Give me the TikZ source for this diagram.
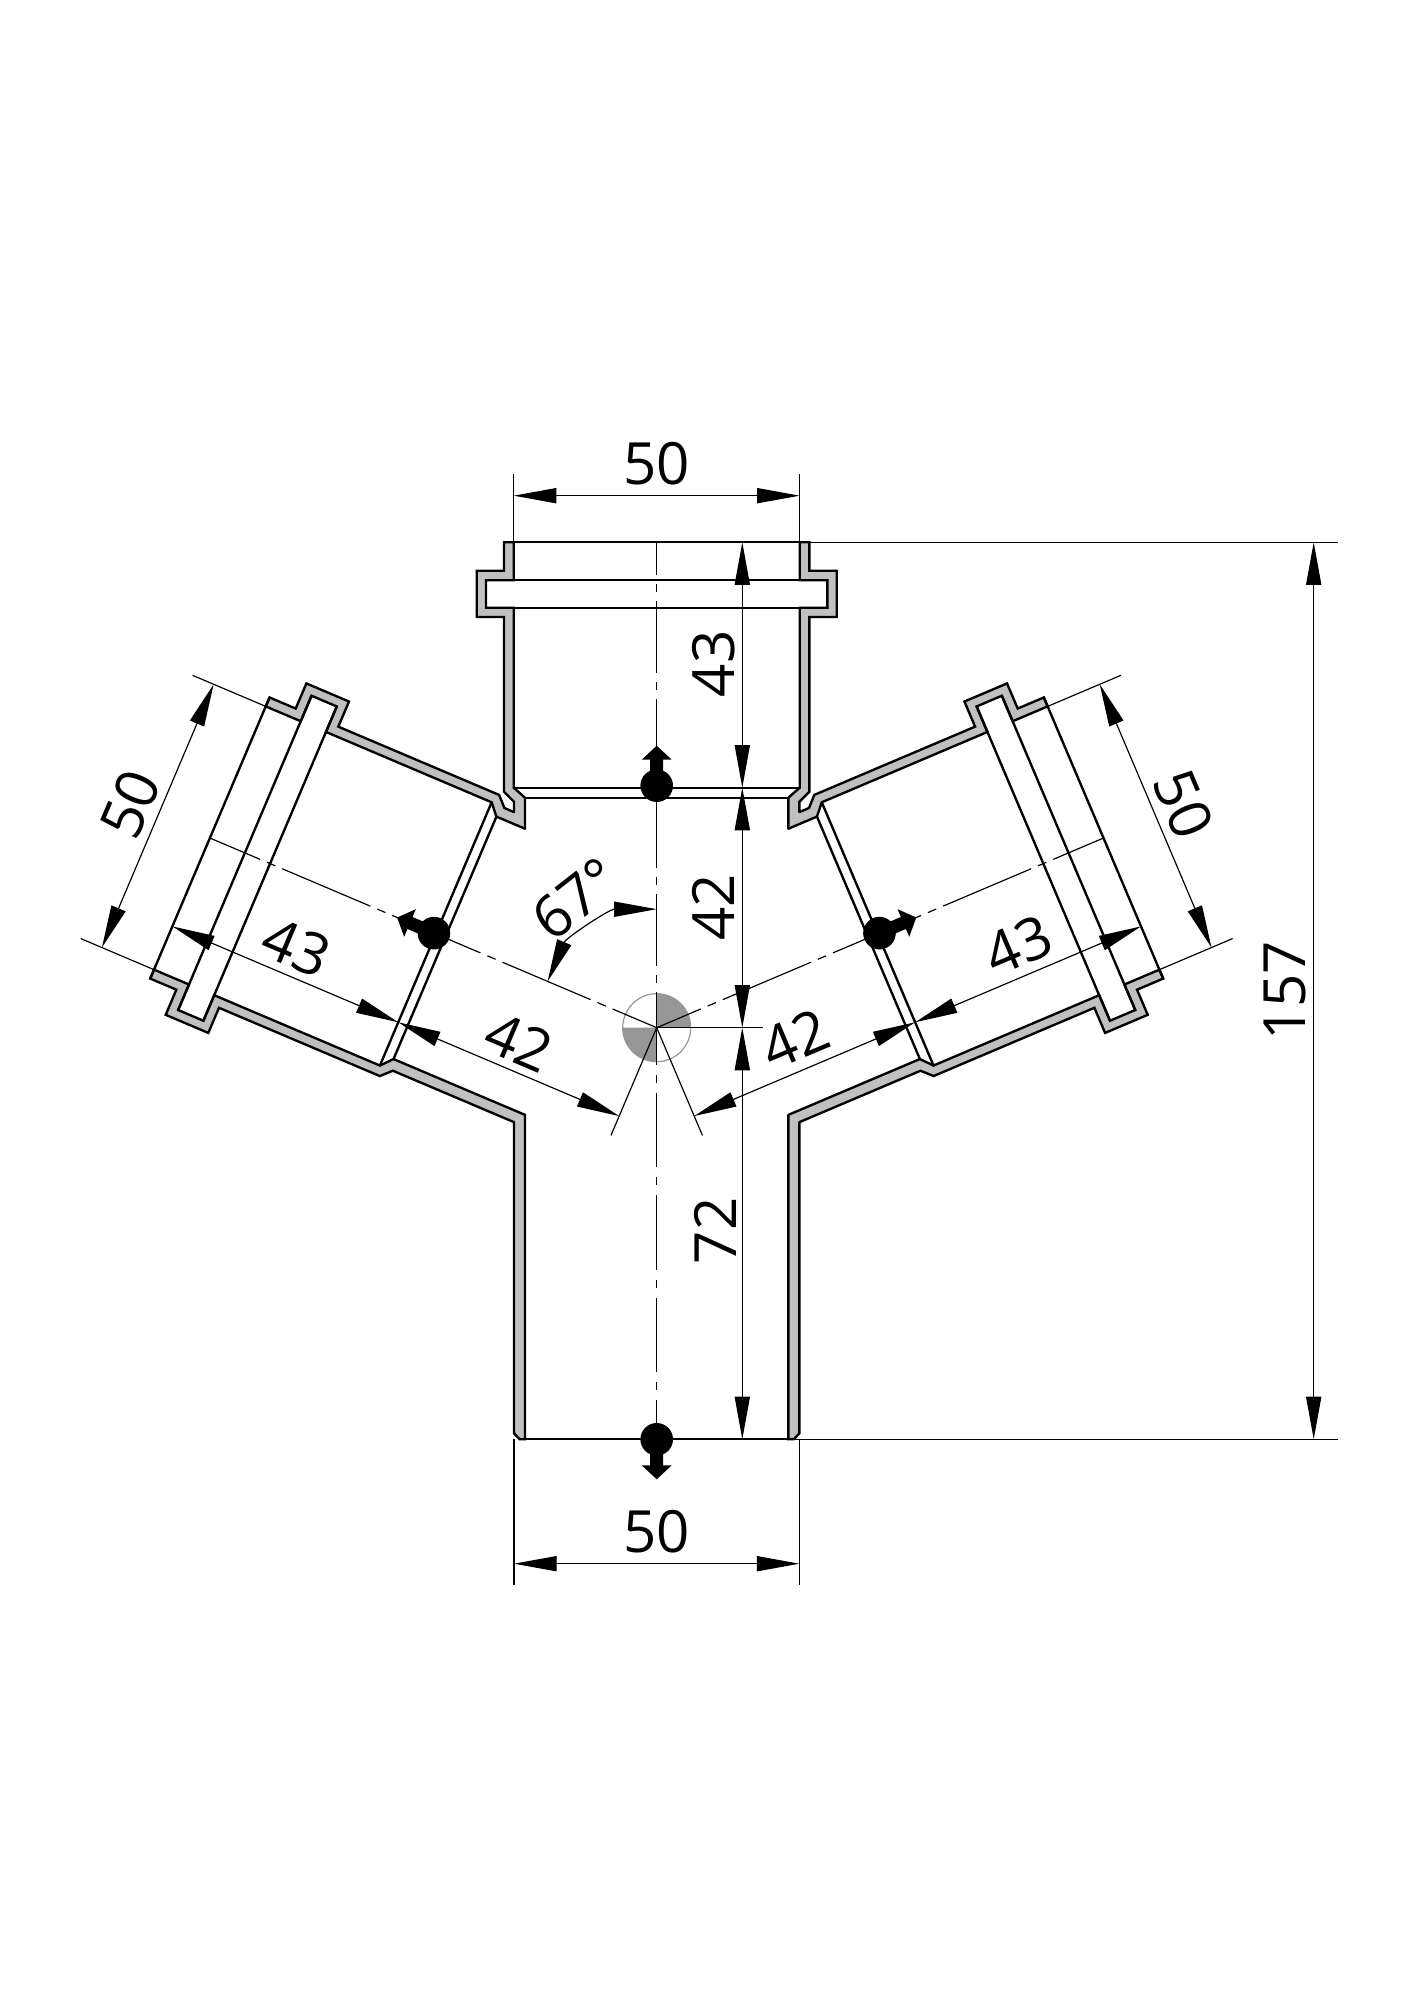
\documentclass[tikz,border=0pt]{standalone}
\usepackage{fontspec}
\setmainfont{Open Sans}
\usetikzlibrary{arrows.meta}
\definecolor{wall}{RGB}{192, 192, 192}
\definecolor{mid}{RGB}{150, 150, 150}
\tikzset{
  contour/.style={line width=1pt, line cap=round},
  thinline/.style={line width=0.5pt},
  dimline/.style={thinline, {Triangle[length=18pt, width=6.4pt]}-{Triangle[length=18pt, width=6.4pt]}},
  axisstem/.style={thinline, dash pattern=on 30.33pt off 3.79pt on 3.37pt off 3.79pt, dash phase=15.16pt},
  axislow/.style={thinline, dash pattern=on 31.47pt off 4.2pt on 3.37pt off 4.2pt, dash phase=15.7pt},
  axisbranch/.style={thinline, dash pattern=on 40.44pt off 3.16pt on 3.79pt off 3.16pt, dash phase=20.22pt},
  dimtext/.style={font=\fontsize{24.6}{26}\selectfont, inner sep=0pt}
}
\newcommand{\socketwall}[2]{
  \filldraw[contour, fill=wall] (-142.7, #1) -- (-142.7, 226) -- (-152.7, 236) -- (-152.7, 410.7)
    -- (-180, 410.7) -- (-180, 457) -- (-152.7, 457) -- (-152.7, 485.4) -- (-143, 485.4)
    -- (-143, 447.4) -- (-170.7, 447.4) -- (-170.7, 420) -- (-143, 420) -- (-143, 240)
    -- (-131.7, 230) -- (-131.7, #2);
}
\newcommand{\flowmark}[1]{
  \fill (0, #1) circle (16.3);
  \fill (-6.5, #1) -- (-6.5, #1+26) -- (-15, #1+26) -- (0, #1+40) -- (15, #1+26) -- (6.5, #1+26) -- (6.5, #1) -- cycle;
}
\newcommand{\socketbody}[4]{
  \socketwall{#1}{#2}
  \begin{scope}[xscale=-1]
    \socketwall{#3}{#4}
  \end{scope}
  \draw[contour] (-152.7, 485.4) -- (152.7, 485.4);
  \draw[contour] (-170.7, 447.4) -- (170.7, 447.4);
  \draw[contour] (-170.7, 420) -- (170.7, 420);
  \draw[contour] (-143, 240) -- (143, 240);
  \draw[contour] (-131.7, 230) -- (131.7, 230);
  \flowmark{242}
}

\begin{document}
\begin{tikzpicture}[x=0.01485cm, y=0.01485cm]
  \useasboundingbox (-656.7, -972.3) rectangle (757.3, 1027.7);
  \coordinate (center) at (0, 0);

  % middle mark
  \fill[mid] (center) -- (0, 34) arc (90:0:34) -- cycle;
  \fill[mid] (center) -- (-34, 0) arc (180:270:34) -- cycle;
  \draw[mid, thinline] (center) circle (34);

  % top socket
  \socketbody{215.6}{199}{215.6}{199}
  \draw[axisstem] (center) -- (0, 485.4);
  \draw[thinline] (-143, 485.4) -- (-143, 553.7);
  \draw[thinline] (143, 485.4) -- (143, 553.7);
  \draw[dimline] (-143, 532) -- (143, 532);
  \node[dimtext] (widthtop) at (0, 564.4) {50};

  % left socket
  \begin{scope}[rotate=67]
    \socketbody{94.4}{87.2}{215.6}{199}
    \draw[axisbranch] (center) -- (0, 485.4);
    \draw[thinline] (-143, 485.4) -- (-143, 565);
    \draw[thinline] (143, 485.4) -- (143, 565);
    \draw[thinline] (center) -- (-117, 0);
    \draw[dimline] (-143, 542) -- (143, 542);
    \draw[dimline] (-96, 240) -- (-96, 485.4);
    \draw[dimline] (-96, 0) -- (-96, 240);
    \node[dimtext, rotate=67] (widthleft) at (0, 572) {50};
    \node[dimtext, rotate=-23] (socketleft) at (-67, 363) {43};
    \node[dimtext, rotate=-23] (runleft) at (-67, 121) {42};
  \end{scope}

  % right socket
  \begin{scope}[rotate=-67]
    \socketbody{215.6}{199}{94.4}{87.2}
    \draw[axisbranch] (center) -- (0, 485.4);
    \draw[thinline] (-143, 485.4) -- (-143, 565);
    \draw[thinline] (143, 485.4) -- (143, 565);
    \draw[thinline] (center) -- (117, 0);
    \draw[dimline] (-143, 542) -- (143, 542);
    \draw[dimline] (96, 240) -- (96, 485.4);
    \draw[dimline] (96, 0) -- (96, 240);
    \node[dimtext, rotate=-67] (widthright) at (0, 572) {50};
    \node[dimtext, rotate=23] (socketright) at (66, 365) {43};
    \node[dimtext, rotate=23] (runright) at (65, 123) {42};
  \end{scope}

  % bottom pipe
  \begin{scope}[rotate=180]
    \flowmark{411.6}
  \end{scope}
  \filldraw[contour, fill=wall] (-142.7, -94.4) -- (-142.7, -405.6) -- (-137, -411.6) -- (-131.7, -411.6) -- (-131.7, -87.2);
  \filldraw[contour, fill=wall] (142.7, -94.4) -- (142.7, -405.6) -- (137, -411.6) -- (131.7, -411.6) -- (131.7, -87.2);
  \draw[contour] (-137, -411.6) -- (137, -411.6);
  \draw[axislow] (center) -- (0, -411.6);
  \draw[thinline] (-142.7, -411.6) -- (-142.7, -557.3);
  \draw[thinline] (142.7, -411.6) -- (142.7, -557.3);
  \draw[dimline] (-142.7, -536) -- (142.7, -536);
  \node[dimtext] (widthlow) at (0, -504.3) {50};

  % vertical dimensions
  \draw[thinline] (center) -- (106.6, 0);
  \draw[dimline] (85.6, 240) -- (85.6, 485.4);
  \draw[dimline] (85.6, 0) -- (85.6, 240);
  \draw[dimline] (85.6, -411.6) -- (85.6, 0);
  \node[dimtext, rotate=90] (sockettop) at (56.6, 363.9) {43};
  \node[dimtext, rotate=90] (runtop) at (56.6, 120) {42};
  \node[dimtext, rotate=90] (runlow) at (59, -203.3) {72};

  % overall length
  \draw[thinline] (152.7, 485.4) -- (681.3, 485.4);
  \draw[thinline] (137, -411.6) -- (681.3, -411.6);
  \draw[dimline] (657, -411.6) -- (657, 485.4);
  \node[dimtext, rotate=90] (lengthall) at (628.5, 36.7) {157};

  % angle
  \draw[dimline] (90:118.5) arc (90:157:118.5);
  \node[dimtext, rotate=38] (anglebranch) at (-81, 129) {67°};
\end{tikzpicture}
\end{document}
